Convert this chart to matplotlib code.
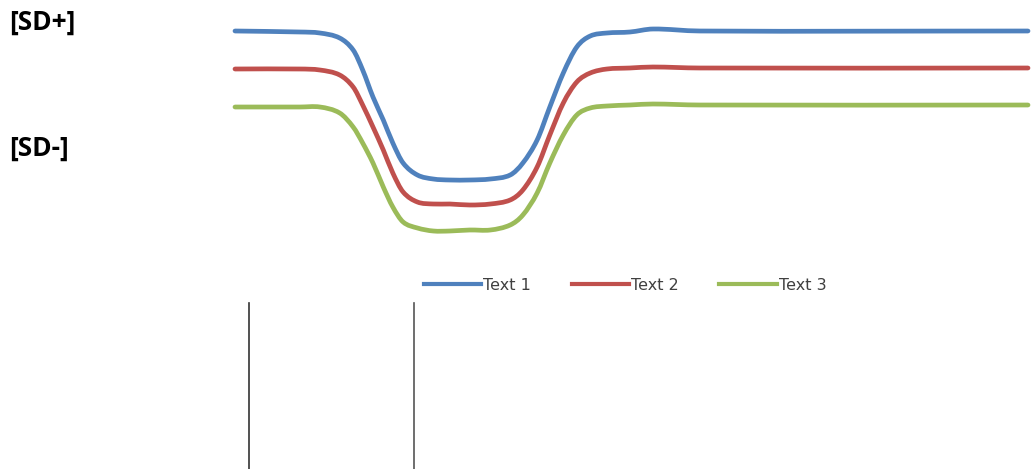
import matplotlib
matplotlib.use("Agg")
import matplotlib.pyplot as plt
import numpy as np
from matplotlib.path import Path
from matplotlib.patches import PathPatch
from matplotlib.lines import Line2D

plt.rcParams['font.family'] = ['DejaVu Sans']

# ---- data ----
x_pos = [0, 8.2, 10.7, 13.2, 14.9, 16.1, 17.4, 18.7, 19.9, 21.2, 23.0, 25.0,
         27.1, 29.6, 32.2, 34.7, 36.3, 38.1, 39.7, 41.4, 43.1, 44.8, 46.9,
         49.8, 52.7, 58.6, 100]
text1 = [21.9, 21.8, 21.7, 21.2, 20.0, 18.0, 15.3, 13.0, 10.7, 8.7, 7.5, 7.1,
         7.0, 7.0, 7.1, 7.5, 8.7, 11.0, 14.3, 17.7, 20.3, 21.4, 21.7, 21.8,
         22.1, 21.9, 21.9]
text2 = [18.1, 18.1, 18.0, 17.5, 16.3, 14.5, 12.3, 10.0, 7.7, 5.8, 4.8, 4.6,
         4.6, 4.5, 4.6, 5.0, 6.0, 8.3, 11.5, 14.7, 16.8, 17.7, 18.1, 18.2,
         18.3, 18.2, 18.2]
text3 = [14.3, 14.3, 14.3, 13.7, 12.3, 10.7, 8.7, 6.3, 4.3, 2.8, 2.2, 1.9,
         1.9, 2.0, 2.0, 2.5, 3.5, 5.7, 8.7, 11.5, 13.5, 14.2, 14.4, 14.5,
         14.6, 14.5, 14.5]
series_names = ["Text 1", "Text 2", "Text 3"]
side_labels = ["[SD+]", "[SD-]"]

colors = ["#4F81BD", "#C0504D", "#9BBB59"]

W, H = 1032, 469
fig = plt.figure(figsize=(W / 100, H / 100), dpi=100)
ax = fig.add_axes([235 / W, (H - 250) / H, 793 / W, 250 / H])
ax.set_xlim(0, 100)
ax.set_ylim(0, 25)
ax.axis("off")


def smooth_path(xs, ys):
    xs = np.asarray(xs, float)
    ys = np.asarray(ys, float)
    n = len(xs)
    m = np.zeros(n)
    for i in range(n):
        if i == 0:
            m[i] = (ys[1] - ys[0]) / (xs[1] - xs[0])
        elif i == n - 1:
            m[i] = (ys[-1] - ys[-2]) / (xs[-1] - xs[-2])
        else:
            m[i] = (ys[i + 1] - ys[i - 1]) / (xs[i + 1] - xs[i - 1])
    verts = [(xs[0], ys[0])]
    codes = [Path.MOVETO]
    for i in range(n - 1):
        h = xs[i + 1] - xs[i]
        verts += [(xs[i] + h / 3, ys[i] + m[i] * h / 3),
                  (xs[i + 1] - h / 3, ys[i + 1] - m[i + 1] * h / 3),
                  (xs[i + 1], ys[i + 1])]
        codes += [Path.CURVE4] * 3
    return Path(verts, codes)


handles = []
for ys, c, name in zip([text1, text2, text3], colors, series_names):
    patch = PathPatch(smooth_path(x_pos, ys), facecolor="none", edgecolor=c,
                      lw=3.4, capstyle="round", joinstyle="round", clip_on=False)
    ax.add_patch(patch)
    handles.append(Line2D([], [], color=c, lw=3.0, label=name))

leg = fig.legend(handles=handles, loc="center", ncol=3, frameon=False,
                 bbox_to_anchor=(625 / W, 1 - 285 / H),
                 handlelength=3.6, handletextpad=0.12, columnspacing=2.55,
                 prop={"family": "DejaVu Sans", "size": 11.5})
for t in leg.get_texts():
    t.set_color("#404040")

fig.text(9 / W, 1 - 22 / H, side_labels[0], fontsize=19, fontweight="bold",
         family="Open Sans", va="center", ha="left")
fig.text(9 / W, 1 - 148 / H, side_labels[1], fontsize=19, fontweight="bold",
         family="Open Sans", va="center", ha="left")

fig.add_artist(Line2D([249 / W, 249 / W], [0, 1 - 303 / H], color="#333333",
                      lw=1.2, transform=fig.transFigure))
fig.add_artist(Line2D([414 / W, 414 / W], [0, 1 - 303 / H], color="#555555",
                      lw=1.2, transform=fig.transFigure))

fig.savefig("out.png", dpi=100)
